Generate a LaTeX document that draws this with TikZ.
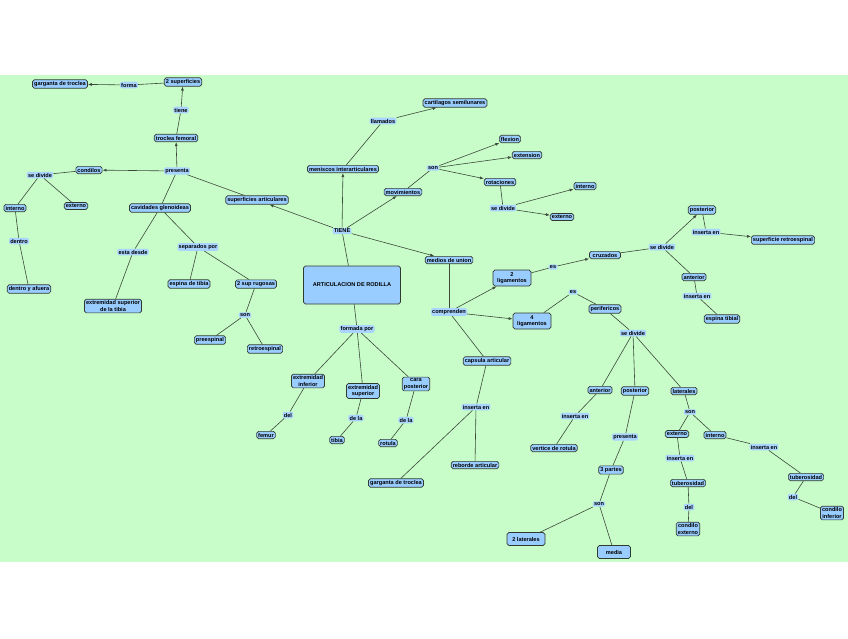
\documentclass[tikz,border=0pt]{standalone}
\usepackage{fontspec}
\setmainfont{Liberation Sans}
\usetikzlibrary{arrows.meta}
\definecolor{bgg}{HTML}{C8FCC8}
\definecolor{cblue}{HTML}{99CCFF}
\definecolor{lblue}{HTML}{A8D4FF}
\definecolor{edg}{HTML}{3C4A3C}
\begin{document}
\begin{tikzpicture}[x=1pt,y=-1pt,
 font=\fontsize{5.6}{6.4}\selectfont\bfseries,
 c/.style={draw=edg!80!black,line width=0.7pt,fill=cblue,rounded corners=1.8pt,inner sep=1.6pt,align=center},
 l/.style={fill=lblue,rounded corners=2pt,inner sep=1.2pt,align=center},
 e/.style={draw=edg,line width=0.6pt},
 a/.style={e,-{Latex[length=4pt,width=3pt]}}]
\fill[white] (0,0) rectangle (848,638);
\fill[bgg] (0,75) rectangle (848,562);
\useasboundingbox (0,0) rectangle (848,638);
% concepts
\node[c] (gt1) at (60,84) {garganta de troclea};
\node[c] (sup2) at (183,82) {2 superficies};
\node[c] (trocfem) at (176,138) {troclea femoral};
\node[c] (condilos) at (89,170) {condilos};
\node[c] (interno1) at (15,208) {interno};
\node[c] (externo1) at (76,206) {externo};
\node[c] (dya) at (29,289) {dentro y afuera};
\node[c] (cav) at (160,208) {cavidades glenoideas};
\node[c] (extsup) at (113,306) {extremidad superior\\de la tibia};
\node[c] (espina) at (189,284) {espina de tibia};
\node[c] (rug) at (256,284) {2 sup rugosas};
\node[c] (pre) at (210,340) {preespinal};
\node[c] (retro) at (265,349) {retroespinal};
\node[c] (supart) at (257,200) {superficies articulares};
\node[c] (men) at (343,169) {meniscos interarticulares};
\node[c] (cart) at (455,103) {cartilagos semilunares};
\node[c] (mov) at (403,192) {movimientos};
\node[c] (flex) at (510,139) {flexion};
\node[c] (ext) at (527,155) {extension};
\node[c] (rot) at (500,182) {rotaciones};
\node[c] (int2) at (585,186) {interno};
\node[c] (ext2) at (562,217) {externo};
\node[c] (medios) at (449,260) {medios de union};
\node[c,minimum width=97pt,minimum height=38pt] (main) at (352,285) {ARTICULACION DE RODILLA};
\node[c] (extinf) at (308,381) {extremidad\\inferior};
\node[c] (extsup2) at (363,391) {extremidad\\superior};
\node[c] (cara) at (416,384) {cara\\posterior};
\node[c] (femur) at (266,435) {femur};
\node[c] (tibia) at (337,440) {tibia};
\node[c] (rotula) at (388,443) {rotula};
\node[c] (caps) at (487,361) {capsula articular};
\node[c] (garg2) at (396,483) {garganta de troclea};
\node[c] (reb) at (475,465) {reborde articular};
\node[c,minimum width=38pt,minimum height=16pt] (lig2) at (512,278) {2\\ligamentos};
\node[c] (cruz) at (605,255) {\ cruzados\ };
\node[c] (post1) at (702,210) {posterior};
\node[c] (supretro) at (783,240) {superficie retroespinal};
\node[c] (ant1) at (694,277) {anterior};
\node[c] (esptib) at (722,319) {espina tibial};
\node[c,minimum width=38pt,minimum height=16pt] (lig4) at (532,321) {4\\ligamentos};
\node[c] (perif) at (605,309) {perifericos};
\node[c] (ant2) at (600,390) {anterior};
\node[c] (post2) at (635,391) {posterior};
\node[c] (lat) at (684,391) {laterales};
\node[c] (vert) at (554,448) {vertice de rotula};
\node[c] (tres) at (611,470) {3 partes};
\node[c,minimum width=38pt,minimum height=13pt] (lat2) at (526,539) {2 laterales};
\node[c,minimum width=33pt,minimum height=13pt] (media) at (614,552) {media};
\node[c] (ext3) at (677,434) {externo};
\node[c] (int3) at (715,435) {interno};
\node[c] (tub1) at (688,483) {tuberosidad};
\node[c] (condext) at (688,529) {condilo\\externo};
\node[c] (tub2) at (806,477) {tuberosidad};
\node[c] (condinf) at (832,513) {condilo\\inferior};
% links
\node[l] (forma) at (129,85) {forma};
\node[l] (tiene) at (181,110) {tiene};
\node[l] (pres) at (177,171) {presenta};
\node[l] (sd1) at (40,175) {se divide};
\node[l] (dentro) at (19,241) {dentro};
\node[l] (desde) at (133,252) {esta desde};
\node[l] (sep) at (198,247) {separados por};
\node[l] (son1) at (245,315) {son};
\node[l] (llam) at (383,121) {llamados};
\node[l] (son2) at (433,168) {son};
\node[l] (sd2) at (503,208) {se divide};
\node[l] (TIENE) at (342,231) {TIENE};
\node[l] (form) at (357,329) {formada por};
\node[l] (del1) at (288,415) {del};
\node[l] (dela1) at (356,418) {de la};
\node[l] (dela2) at (406,420) {de la};
\node[l] (compr) at (449,312) {comprenden};
\node[l] (ins1) at (476,407) {inserta en};
\node[l] (es1) at (553,267) {es};
\node[l] (sd3) at (662,247) {se divide};
\node[l] (ins2) at (706,232) {inserta en};
\node[l] (ins3) at (697,296) {inserta en};
\node[l] (es2) at (573,292) {es};
\node[l] (sd4) at (633,333) {se divide};
\node[l] (ins4) at (575,416) {inserta en};
\node[l] (pres2) at (625,437) {presenta};
\node[l] (son3) at (599,504) {son};
\node[l] (son4) at (690,412) {son};
\node[l] (ins5) at (680,458) {inserta en};
\node[l] (del2) at (689,507) {del};
\node[l] (ins6) at (764,447) {inserta en};
\node[l] (del3) at (793,497) {del};
% edges
\draw[e] (sup2)--(forma); \draw[a] (forma)--(gt1);
\draw[e] (trocfem)--(tiene); \draw[a] (tiene)--(sup2);
\draw[a] (pres)--(trocfem); \draw[a] (pres)--(condilos);
\draw[e] (supart)--(pres); \draw[e] (pres)--(cav);
\draw[e] (condilos)--(sd1); \draw[e] (sd1)--(interno1); \draw[e] (sd1)--(externo1);
\draw[e] (interno1)--(dentro)--(dya);
\draw[e] (cav)--(desde)--(extsup);
\draw[e] (cav)--(sep)--(espina); \draw[e] (sep)--(rug);
\draw[e] (rug)--(son1)--(pre); \draw[e] (son1)--(retro);
\draw[e] (main)--(TIENE);
\draw[a] (TIENE)--(supart); \draw[a] (TIENE)--(men); \draw[a] (TIENE)--(mov); \draw[a] (TIENE)--(medios);
\draw[e] (men)--(llam); \draw[a] (llam)--(cart);
\draw[e] (mov)--(son2); \draw[a] (son2)--(flex); \draw[a] (son2)--(ext); \draw[a] (son2)--(rot);
\draw[e] (rot)--(sd2); \draw[a] (sd2)--(int2); \draw[a] (sd2)--(ext2);
\draw[e] (medios)--(compr); \draw[a] (compr)--(lig2); \draw[a] (compr)--(lig4); \draw[e] (compr)--(caps);
\draw[e] (lig2)--(es1); \draw[a] (es1)--(cruz);
\draw[e] (cruz)--(sd3); \draw[a] (sd3)--(post1); \draw[e] (sd3)--(ant1);
\draw[e] (post1)--(ins2); \draw[a] (ins2)--(supretro);
\draw[e] (ant1)--(ins3)--(esptib);
\draw[e] (lig4)--(es2)--(perif)--(sd4);
\draw[e] (sd4)--(ant2); \draw[e] (sd4)--(post2); \draw[e] (sd4)--(lat);
\draw[e] (ant2)--(ins4)--(vert);
\draw[e] (post2)--(pres2)--(tres)--(son3)--(lat2); \draw[e] (son3)--(media);
\draw[e] (lat)--(son4)--(ext3); \draw[e] (son4)--(int3);
\draw[e] (ext3)--(ins5)--(tub1)--(del2)--(condext);
\draw[e] (int3)--(ins6)--(tub2)--(del3)--(condinf);
\draw[e] (caps)--(ins1)--(garg2); \draw[e] (ins1)--(reb);
\draw[e] (main)--(form); \draw[e] (form)--(extinf); \draw[e] (form)--(extsup2); \draw[e] (form)--(cara);
\draw[e] (extinf)--(del1)--(femur);
\draw[e] (extsup2)--(dela1)--(tibia);
\draw[e] (cara)--(dela2)--(rotula);
\end{tikzpicture}
\end{document}
